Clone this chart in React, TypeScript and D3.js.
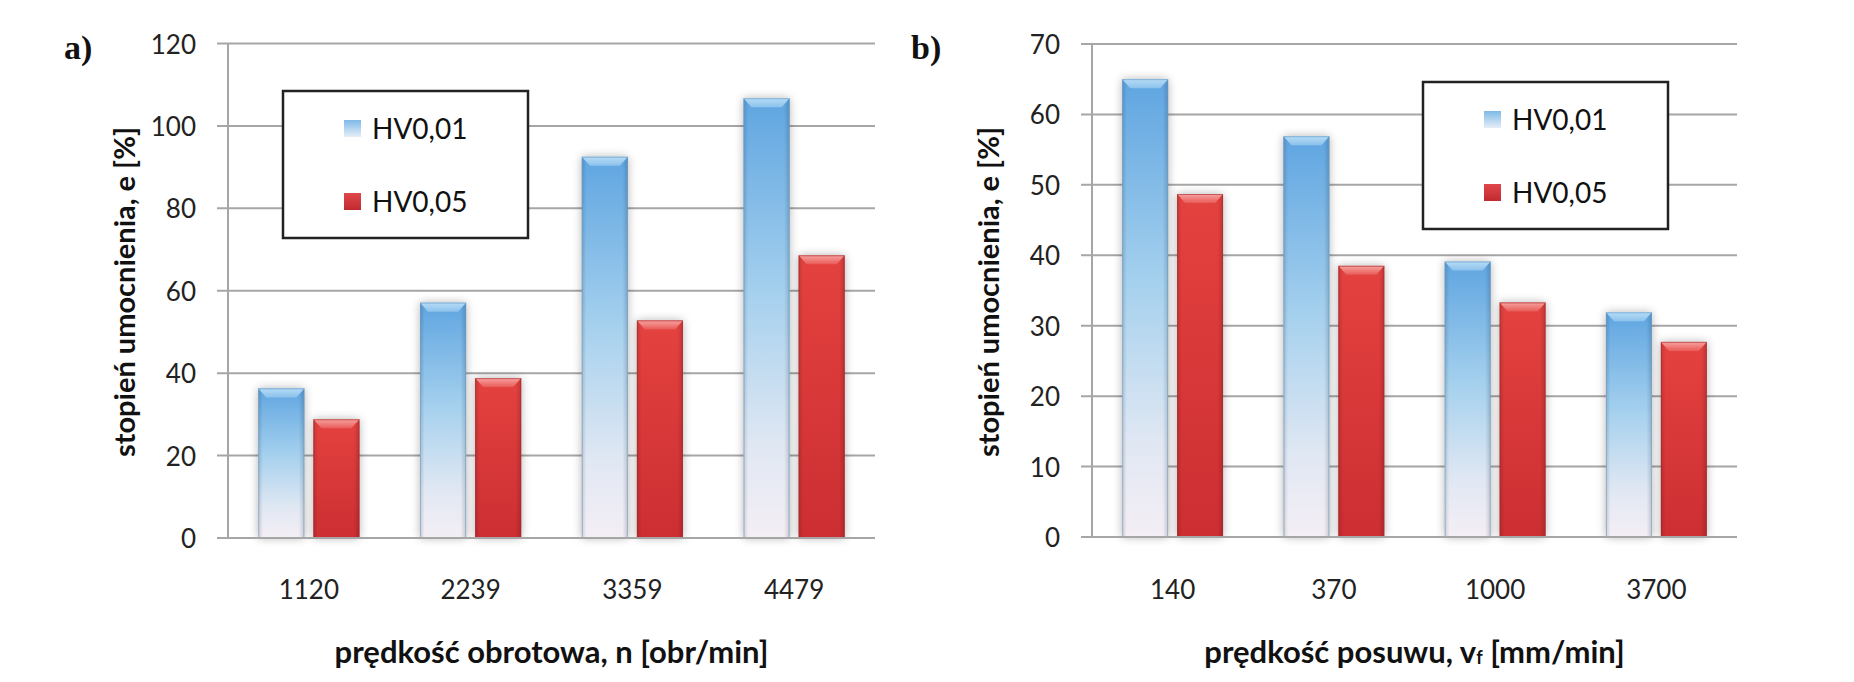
import React from 'react';
import * as d3 from 'd3';

// panel a) – prędkość obrotowa
const categoriesA = ['1120', '2239', '3359', '4479'];
const hv001A = [36.3, 57.1, 92.5, 106.7];
const hv005A = [28.8, 38.8, 52.8, 68.6];
const ticksA = [0, 20, 40, 60, 80, 100, 120];

// panel b) – prędkość posuwu
const categoriesB = ['140', '370', '1000', '3700'];
const hv001B = [65.0, 56.9, 39.1, 31.9];
const hv005B = [48.7, 38.5, 33.3, 27.7];
const ticksB = [0, 10, 20, 30, 40, 50, 60, 70];

const seriesNames = ['HV0,01', 'HV0,05'];

const FONT = 'Lato, "Open Sans", sans-serif';
const GRID = '#a6a6a6';

type PanelProps = {
  label: string;
  labelX: number;
  categories: string[];
  blue: number[];
  red: number[];
  ticks: number[];
  left: number;
  right: number;
  zeroY: number;
  topY: number;
  legendX: number;
  legendY: number;
  xTitle: React.ReactNode;
};

const Bar = ({ x, y, w, h, kind }: { x: number; y: number; w: number; h: number; kind: 'b' | 'r' }) => {
  const bev = Math.min(9, h / 2);
  const inset = 8;
  return (
    <g>
      <rect x={x} y={y} width={w} height={h} fill="#fff" filter="url(#shadow)" />
      <rect x={x} y={y} width={w} height={h} fill={`url(#${kind}Fill)`} />
      <rect x={x} y={y} width={w} height={h} fill="url(#sideShade)" />
      <polygon
        points={`${x},${y} ${x + w},${y} ${x + w - inset},${y + bev} ${x + inset},${y + bev}`}
        fill={`url(#${kind}Bevel)`}
      />
      <rect
        x={x + 0.5}
        y={y + 0.5}
        width={w - 1}
        height={h - 1}
        fill="none"
        stroke={kind === 'b' ? '#6a9cc8' : '#a52a2e'}
        strokeOpacity={0.6}
        strokeWidth={1}
      />
    </g>
  );
};

const Panel = (p: PanelProps) => {
  const max = p.ticks[p.ticks.length - 1];
  const y = d3.scaleLinear().domain([0, max]).range([p.zeroY, p.topY]);
  const x = d3.scaleBand<string>().domain(p.categories).range([p.left, p.right]).padding(0);
  const inner = d3
    .scaleBand<string>()
    .domain(seriesNames)
    .range([0, x.bandwidth()])
    .paddingInner(0.164)
    .paddingOuter(0.55);

  const cx = (p.left + p.right) / 2;

  return (
    <g>
      <text x={p.labelX} y={47} fontFamily='"Liberation Serif", serif' fontWeight="bold" fontSize={34}
        dominantBaseline="central" fill="#111">{p.label}</text>

      {p.ticks.map((t) => (
        <g key={t}>
          <line x1={p.left - 11} x2={p.right} y1={y(t)} y2={y(t)} stroke={GRID} strokeWidth={2} />
          <text x={p.left - 32} y={y(t)} textAnchor="end" dominantBaseline="central"
            fontFamily={FONT} fontSize={26} fill="#222">{t}</text>
        </g>
      ))}
      <line x1={p.left} x2={p.left} y1={p.topY} y2={p.zeroY} stroke={GRID} strokeWidth={2} />

      {p.categories.map((c, i) => {
        const bx = x(c)!;
        const w = inner.bandwidth();
        return (
          <g key={c}>
            <Bar x={bx + inner(seriesNames[0])!} y={y(p.blue[i])} w={w} h={y(0) - y(p.blue[i])} kind="b" />
            <Bar x={bx + inner(seriesNames[1])!} y={y(p.red[i])} w={w} h={y(0) - y(p.red[i])} kind="r" />
            <text x={bx + x.bandwidth() / 2} y={589} textAnchor="middle" dominantBaseline="central"
              fontFamily={FONT} fontSize={26} fill="#222">{c}</text>
          </g>
        );
      })}
      <line x1={p.left - 11} x2={p.right} y1={p.zeroY} y2={p.zeroY} stroke={GRID} strokeWidth={2} />

      <text transform={`translate(${p.left - 105},292) rotate(-90)`} textAnchor="middle"
        dominantBaseline="central" fontFamily={FONT} fontWeight="bold" fontSize={29} fill="#111">
        stopień umocnienia, e [%]
      </text>
      <text x={cx} y={651} textAnchor="middle" dominantBaseline="central" fontFamily={FONT}
        fontWeight="bold" fontSize={31} fill="#111">{p.xTitle}</text>

      <g transform={`translate(${p.legendX},${p.legendY})`}>
        <rect x={0} y={0} width={245} height={147} fill="#fff" stroke="#222" strokeWidth={2.5} />
        {seriesNames.map((s, i) => (
          <g key={s} transform={`translate(0,${37 + i * 73})`}>
            <rect x={61} y={-8} width={17} height={17} fill={i === 0 ? 'url(#bIcon)' : 'url(#rIcon)'} />
            <text x={89} y={0} dominantBaseline="central" fontFamily={FONT} fontSize={28} fill="#111">{s}</text>
          </g>
        ))}
      </g>
    </g>
  );
};

export default function App() {
  return (
    <svg width={1854} height={682} style={{ position: 'absolute', left: 0, top: 0, background: '#fff' }}>
      <defs>
        <filter id="shadow" x="-40%" y="-10%" width="180%" height="120%">
          <feGaussianBlur in="SourceAlpha" stdDeviation="5" />
          <feComponentTransfer><feFuncA type="linear" slope="0.3" /></feComponentTransfer>
        </filter>
        <linearGradient id="bFill" x1="0" y1="0" x2="0" y2="1">
          <stop offset="0" stopColor="#5fa5e1" />
          <stop offset="0.45" stopColor="#a6d1ee" />
          <stop offset="0.8" stopColor="#e1e8f3" />
          <stop offset="1" stopColor="#f4eef5" />
        </linearGradient>
        <linearGradient id="rFill" x1="0" y1="0" x2="0" y2="1">
          <stop offset="0" stopColor="#e4423f" />
          <stop offset="1" stopColor="#cc2e32" />
        </linearGradient>
        <linearGradient id="sideShade" x1="0" y1="0" x2="1" y2="0">
          <stop offset="0" stopColor="#000" stopOpacity="0.14" />
          <stop offset="0.1" stopColor="#000" stopOpacity="0" />
          <stop offset="0.88" stopColor="#000" stopOpacity="0" />
          <stop offset="1" stopColor="#000" stopOpacity="0.16" />
        </linearGradient>
        <linearGradient id="bBevel" x1="0" y1="0" x2="0" y2="1">
          <stop offset="0" stopColor="#b6dcf5" />
          <stop offset="1" stopColor="#8cc2ec" />
        </linearGradient>
        <linearGradient id="rBevel" x1="0" y1="0" x2="0" y2="1">
          <stop offset="0" stopColor="#f7a3a0" />
          <stop offset="1" stopColor="#e85b58" />
        </linearGradient>
        <linearGradient id="bIcon" x1="0" y1="0" x2="0" y2="1">
          <stop offset="0" stopColor="#7db9e8" />
          <stop offset="1" stopColor="#e6eef6" />
        </linearGradient>
        <linearGradient id="rIcon" x1="0" y1="0" x2="0" y2="1">
          <stop offset="0" stopColor="#e0474a" />
          <stop offset="1" stopColor="#c02a30" />
        </linearGradient>
      </defs>
      <rect width={1854} height={682} fill="#fff" />
      <Panel
        label="a)"
        labelX={64}
        categories={categoriesA}
        blue={hv001A}
        red={hv005A}
        ticks={ticksA}
        left={228}
        right={875}
        zeroY={538}
        topY={43.5}
        legendX={283}
        legendY={91}
        xTitle="prędkość obrotowa, n [obr/min]"
      />
      <Panel
        label="b)"
        labelX={911}
        categories={categoriesB}
        blue={hv001B}
        red={hv005B}
        ticks={ticksB}
        left={1092}
        right={1737}
        zeroY={537}
        topY={44}
        legendX={1423}
        legendY={82}
        xTitle={<>prędkość posuwu, v<tspan fontSize={18} dy={6}>f</tspan><tspan dy={-6}> [mm/min]</tspan></>}
      />
    </svg>
  );
}
